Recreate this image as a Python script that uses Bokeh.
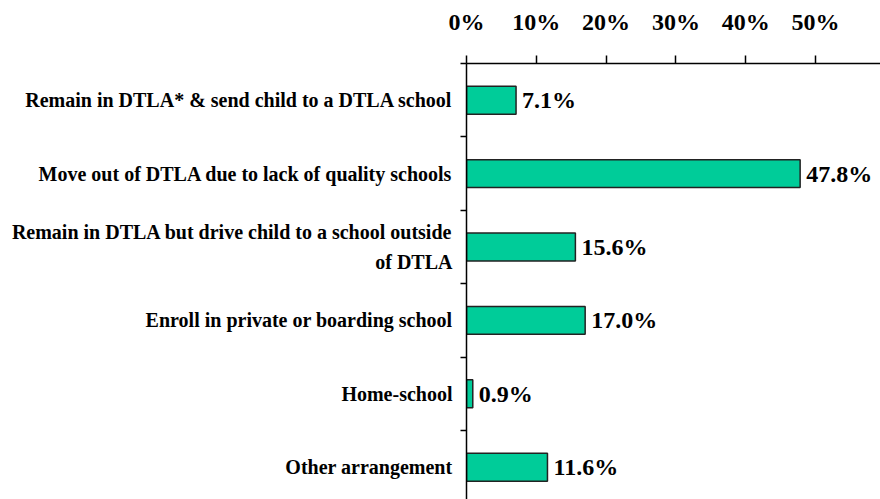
from bokeh.plotting import figure
from bokeh.models import Range1d, FixedTicker
from bokeh.core.properties import value
from bokeh.embed import file_html
from bokeh.resources import INLINE

categories = [
    "Remain in DTLA* & send child to a DTLA school",
    "Move out of DTLA due to lack of quality schools",
    "Remain in DTLA but drive child to a school outside\nof DTLA",
    "Enroll in private or boarding school",
    "Home-school",
    "Other arrangement",
]
values = [7.1, 47.8, 15.6, 17.0, 0.9, 11.6]
x_tick_values = [0, 10, 20, 30, 40, 50]
x_tick_labels = ["0%", "10%", "20%", "30%", "40%", "50%"]

FONT = "Times New Roman, Liberation Serif, serif"
n = len(categories)
ys = [i + 0.5 for i in range(n)]
boundaries = [float(i) for i in range(n + 1)]

W, H = 880, 499
left_border, top_border = 466, 63
px_per_unit = 6.98
px_per_cat = 73.4
x_end = (W - left_border) / px_per_unit
y_bottom = (H - top_border) / px_per_cat

p = figure(width=W, height=H, output_backend="svg", toolbar_location=None,
           x_axis_location="above",
           x_range=Range1d(0, x_end), y_range=Range1d(y_bottom, 0))
p.min_border_left = left_border
p.min_border_top = top_border
p.min_border_right = 0
p.min_border_bottom = 0
p.outline_line_color = None
p.xgrid.visible = False
p.ygrid.visible = False
p.background_fill_color = "white"
p.border_fill_color = "white"

p.hbar(y=ys, left=0, right=values, height=0.38,
       fill_color="#00CC99", line_color="#222222", line_width=1.5)

p.text(x=values, y=ys, text=[f"{v:.1f}%" for v in values],
       x_offset=6, text_baseline="middle", text_align="left",
       text_font=value(FONT), text_font_style="bold", text_font_size="24px",
       text_color="black")

xa = p.xaxis[0]
xa.ticker = FixedTicker(ticks=x_tick_values)
xa.major_label_overrides = {v: l for v, l in zip(x_tick_values, x_tick_labels)}
xa.major_label_text_font = FONT
xa.major_label_text_font_style = "bold"
xa.major_label_text_font_size = "24px"
xa.major_label_text_color = "black"
xa.major_label_standoff = 21
xa.major_tick_out = 8
xa.major_tick_in = 0
xa.minor_tick_line_color = None
xa.axis_line_width = 1.5
xa.major_tick_line_width = 1.5
xa.axis_line_color = "black"
xa.major_tick_line_color = "black"

ya = p.yaxis[0]
ya.ticker = FixedTicker(ticks=ys, minor_ticks=boundaries)
ya.major_label_overrides = {y: c for y, c in zip(ys, categories)}
ya.major_label_text_font = FONT
ya.major_label_text_font_style = "bold"
ya.major_label_text_font_size = "20px"
ya.major_label_text_line_height = 1.4
ya.major_label_text_color = "black"
ya.major_label_standoff = 8
ya.major_tick_line_color = None
ya.major_tick_out = 0
ya.major_tick_in = 0
ya.minor_tick_out = 6
ya.minor_tick_in = 0
ya.minor_tick_line_color = "black"
ya.minor_tick_line_width = 1.5
ya.axis_line_width = 1.5
ya.axis_line_color = "black"

open("out.html", "w").write(file_html(p, INLINE))
